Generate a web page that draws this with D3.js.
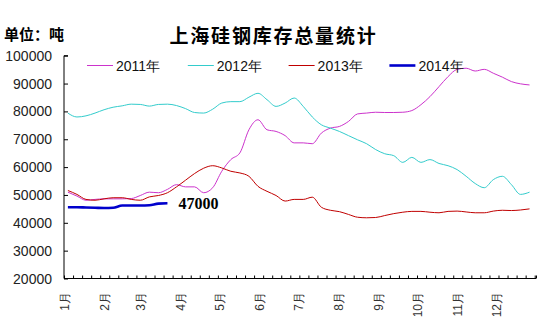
<!DOCTYPE html>
<html><head><meta charset="utf-8">
<script src="https://cdn.jsdelivr.net/npm/d3@7/dist/d3.min.js"></script>
<style>
html,body{margin:0;padding:0;background:#fff;}
svg{display:block;}
</style>
</head><body>
<svg id="chart" width="555" height="329"></svg>
<script>
// ---- data ----
const chartTitle = "上海硅钢库存总量统计";
const unitLabel = "单位：吨";
const seriesNames = ["2011年", "2012年", "2013年", "2014年"];
const monthLabels = ["1月","2月","3月","4月","5月","6月","7月","8月","9月","10月","11月","12月"];
const monthStartDays = [0,31,59,90,120,151,181,212,243,273,304,334];
const yTicks = [20000,30000,40000,50000,60000,70000,80000,90000,100000];

const s2011 = [51000,49600,48100,48400,48600,48600,48600,48700,49800,51000,50800,52000,53700,52900,52900,50800,52600,58500,62700,65100,73400,77000,73400,72800,71300,68700,68700,68400,72200,74000,74600,76400,79100,79400,79700,79600,79600,79700,80300,82400,85300,88900,92500,95100,95500,94500,95100,93700,92300,90700,89900,89500];
const s2012 = [79400,78000,78400,79400,80600,81500,82000,82600,82500,81900,82500,82600,82100,81000,79600,79400,80800,83000,83500,83500,85100,86500,84200,81800,83000,84800,81800,78000,75200,74000,72800,71300,69800,68400,66300,64800,64100,61700,63500,61700,62700,61300,60500,59100,56700,54100,52600,55500,56700,53700,50200,51000];
const s2013 = [51600,50200,48400,48100,48600,49000,49000,48400,48100,49300,49800,50800,52900,55300,57700,59600,60500,59700,58500,57900,56700,53100,51300,49800,47800,48400,48400,49200,45600,44500,44000,43000,42000,41800,41900,42600,43300,43800,44100,44100,43800,43600,44100,44200,43900,43600,43600,44200,44500,44400,44600,45000];
const s2014 = [45600,45600,45500,45400,45300,45400,46200,46200,46200,46300,46900,47000];

const colors = ["#CC33CC", "#33CCCC", "#C00000", "#0000CC"];
const widths = [1, 1, 1, 2.6];
const allSeries = [s2011, s2012, s2013, s2014];

// weekly points: day-of-year of each weekly observation
const weekDay = i => 3 + 7 * i;

// ---- layout ----
const svg = d3.select("#chart");
const plotL = 64, plotR = 536, plotT = 55.7, plotB = 278.5;

const x = d3.scaleLinear().domain([0, 365]).range([plotL, plotR]);
const y = d3.scaleLinear().domain([20000, 100000]).range([plotB, plotT]);

// title
svg.append("text").attr("x", 273.5).attr("y", 43)
  .attr("text-anchor", "middle")
  .style("font-family", "'Noto Sans CJK SC'").style("font-weight", "bold")
  .style("font-size", "19px").style("letter-spacing", "1.8px")
  .text(chartTitle);

svg.append("text").attr("x", 4).attr("y", 40)
  .style("font-family", "'Noto Sans CJK SC'").style("font-weight", "bold")
  .style("font-size", "15px")
  .text(unitLabel);

// y axis
const yAxis = d3.axisRight(y).tickValues(yTicks).tickSize(4).tickFormat("");
const gy = svg.append("g").attr("transform", `translate(${plotL},0)`).call(yAxis);
gy.select(".domain").attr("d", `M4,${plotT}H0V${plotB}`).attr("stroke", "#000");
gy.selectAll(".tick line").attr("stroke", "#000");

svg.append("g").selectAll("text").data(yTicks).join("text")
  .attr("x", 52).attr("y", d => y(d)).attr("dy", "0.36em")
  .attr("text-anchor", "end")
  .style("font-family", "'Liberation Sans'").style("font-size", "14px")
  .attr("fill", "#222")
  .text(d => d);

// x axis
const xTickVals = d3.range(0, 365, 7).concat([365]);
const xAxis = d3.axisTop(x).tickValues(xTickVals).tickSize(3).tickFormat("");
const gx = svg.append("g").attr("transform", `translate(0,${plotB})`).call(xAxis);
gx.select(".domain").attr("d", `M${plotL},0H${plotR}`).attr("stroke", "#000");
gx.selectAll(".tick line").attr("stroke", "#000");

svg.append("g").selectAll("text").data(monthLabels).join("text")
  .attr("transform", (d, i) => `translate(${x(monthStartDays[i]) + 5},292) rotate(-90)`)
  .attr("text-anchor", "end")
  .style("font-family", "'Liberation Sans'").style("font-size", "12px")
  .attr("fill", "#333")
  .text(d => d);

// lines
const line = d3.line().x((d, i) => x(weekDay(i))).y(d => y(d)).curve(d3.curveMonotoneX);
allSeries.forEach((s, k) => {
  svg.append("path").datum(s)
    .attr("fill", "none").attr("stroke", colors[k]).attr("stroke-width", widths[k])
    .attr("d", line);
});

// data label for last 2014 point
const lastIdx = s2014.length - 1;
svg.append("text")
  .attr("x", x(weekDay(lastIdx)) + 11).attr("y", y(s2014[lastIdx]) + 6)
  .style("font-family", "'Liberation Serif'").style("font-weight", "bold")
  .style("font-size", "16px")
  .text(s2014[lastIdx]);

// legend
const lg = svg.append("g");
seriesNames.forEach((n, k) => {
  const lx = 87 + k * 100.8;
  lg.append("line").attr("x1", lx).attr("x2", lx + 26).attr("y1", 65.5).attr("y2", 65.5)
    .attr("stroke", colors[k]).attr("stroke-width", widths[k]);
  lg.append("text").attr("x", lx + 29).attr("y", 65.5).attr("dy", "0.36em")
    .style("font-family", "'Liberation Sans'").style("font-size", "14px")
    .attr("fill", "#111")
    .text(n);
});
</script>
</body></html>
